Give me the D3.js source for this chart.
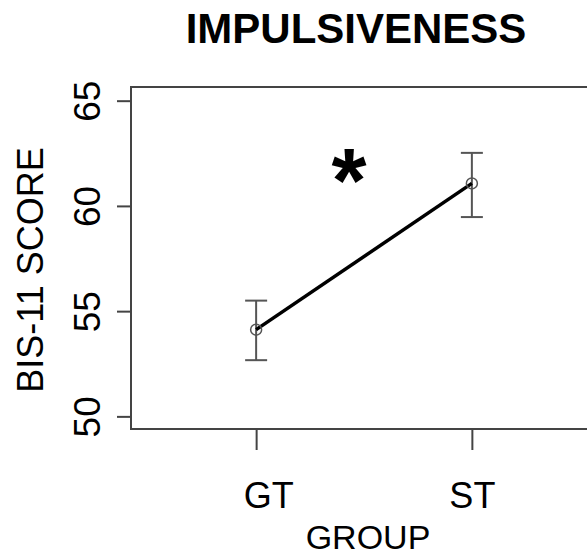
<!DOCTYPE html>
<html>
<head>
<meta charset="utf-8">
<script src="https://cdn.jsdelivr.net/npm/d3@7"></script>
<style>
  body { margin: 0; background: #fff; }
  svg { display: block; font-family: "Liberation Sans", Arial, sans-serif; }
</style>
</head>
<body>
<svg id="chart" width="587" height="554"></svg>
<script>
// group means with error bar limits (BIS-11 score)
var groups = ['GT', 'ST']
var means = [54.12, 61.07]
var upper = [55.5, 62.52]
var lower = [52.67, 59.47]
var yTicks = [50, 55, 60, 65]
var sigMark = { x: 1.43, y: 61.85, label: '*' }

var svg = d3.select('#chart')

var x = d3.scaleLinear().domain([0.42, 2.58]).range([131, 597])
var y = d3.scaleLinear().domain([49.4, 65.65]).range([429, 87])

var points = groups.map(function(g, i) {
   return { group: g, pos: i + 1, mean: means[i], hi: upper[i], lo: lower[i] }
})

// title
svg.append('text')
   .attr('x', 356)
   .attr('y', 43)
   .attr('text-anchor', 'middle')
   .style('font-size', '42px')
   .style('font-weight', 'bold')
   .text('IMPULSIVENESS')

// plot box
svg.append('rect')
   .attr('x', x(0.42))
   .attr('y', y(65.65))
   .attr('width', x(2.58) - x(0.42))
   .attr('height', y(49.4) - y(65.65))
   .attr('fill', 'none')
   .attr('stroke', '#444')
   .attr('stroke-width', 2)

// y axis
var yAxis = d3.axisLeft(y).tickValues(yTicks).tickSize(14).tickSizeOuter(0)
var gy = svg.append('g')
   .attr('transform', 'translate(' + x(0.42) + ',0)')
   .call(yAxis)
gy.select('.domain').remove()
gy.selectAll('.tick line').attr('stroke', '#444').attr('stroke-width', 2)
gy.selectAll('.tick text')
   .attr('x', null).attr('dy', null)
   .attr('transform', 'translate(-31,0) rotate(-90)')
   .attr('text-anchor', 'middle')
   .attr('fill', '#000')
   .style('font-size', '37px')
   .style('font-family', '"Liberation Sans", Arial, sans-serif')

// x axis
var xAxis = d3.axisBottom(x).tickValues([1, 2]).tickSize(21).tickSizeOuter(0)
   .tickFormat(function(d) { return groups[d - 1] })
var gx = svg.append('g')
   .attr('transform', 'translate(0,' + y(49.4) + ')')
   .call(xAxis)
gx.select('.domain').remove()
gx.selectAll('.tick line').attr('stroke', '#444').attr('stroke-width', 2)
gx.selectAll('.tick text')
   .attr('y', 79).attr('dy', null)
   .attr('dx', function(d) { return d === 1 ? 12 : 0 })
   .attr('fill', '#000')
   .style('font-size', '36px')
   .style('font-family', '"Liberation Sans", Arial, sans-serif')

// axis titles
svg.append('text')
   .attr('x', 368)
   .attr('y', 549)
   .attr('text-anchor', 'middle')
   .style('font-size', '34px')
   .text('GROUP')

svg.append('text')
   .attr('transform', 'translate(43,270) rotate(-90)')
   .attr('text-anchor', 'middle')
   .style('font-size', '36px')
   .text('BIS-11 SCORE')

// error bars
var bars = svg.append('g').selectAll('g')
   .data(points)
   .join('g')
   .attr('stroke', '#555')
   .attr('stroke-width', 2)
bars.append('line')
   .attr('x1', d => x(d.pos)).attr('x2', d => x(d.pos))
   .attr('y1', d => y(d.hi)).attr('y2', d => y(d.lo))
bars.append('line')
   .attr('x1', d => x(d.pos) - 11).attr('x2', d => x(d.pos) + 11)
   .attr('y1', d => y(d.hi)).attr('y2', d => y(d.hi))
bars.append('line')
   .attr('x1', d => x(d.pos) - 11).attr('x2', d => x(d.pos) + 11)
   .attr('y1', d => y(d.lo)).attr('y2', d => y(d.lo))

// mean line
svg.append('path')
   .datum(points)
   .attr('fill', 'none')
   .attr('stroke', '#000')
   .attr('stroke-width', 3.5)
   .attr('d', d3.line().x(d => x(d.pos)).y(d => y(d.mean)))

svg.append('g').selectAll('circle')
   .data(points)
   .join('circle')
   .attr('cx', d => x(d.pos))
   .attr('cy', d => y(d.mean))
   .attr('r', 5.5)
   .attr('fill', 'none')
   .attr('stroke', '#555')
   .attr('stroke-width', 1.5)

// significance star
svg.append('text')
   .attr('x', x(sigMark.x))
   .attr('y', y(sigMark.y))
   .attr('dy', '0.5em')
   .attr('text-anchor', 'middle')
   .style('font-size', '90px')
   .style('font-weight', 'bold')
   .text(sigMark.label)
</script>
</body>
</html>
